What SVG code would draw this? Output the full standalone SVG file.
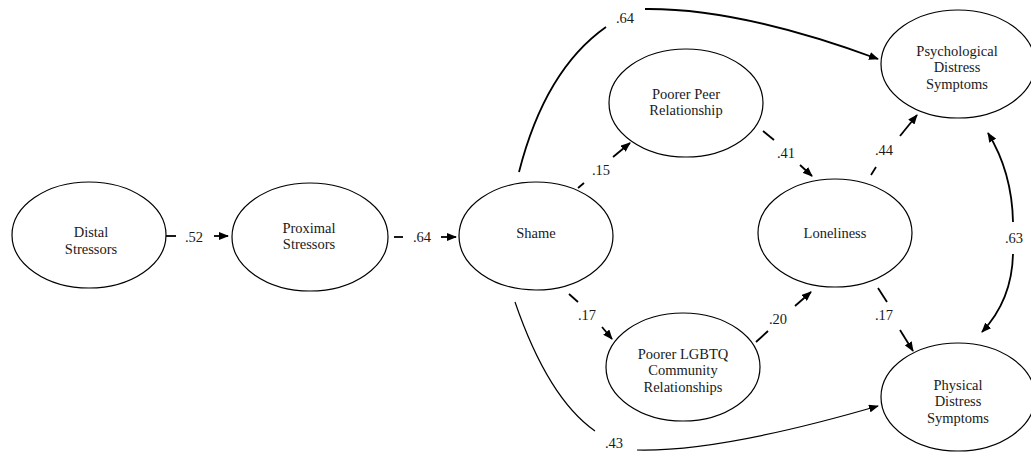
<svg xmlns="http://www.w3.org/2000/svg" width="1031" height="458" viewBox="0 0 1031 458">
<style>
  .node ellipse { fill: #fff; stroke: #000; stroke-width: 1.2; }
  text { font-family: "Liberation Serif", "DejaVu Serif", serif; font-size: 14.5px; fill: #1a1a1a; text-anchor: middle; }
  .seg { stroke: #000; stroke-width: 1.8; fill: none; }
  .thin { stroke: #000; stroke-width: 1.2; fill: none; }
</style>
<defs>
  <marker id="ah" markerUnits="userSpaceOnUse" markerWidth="10" markerHeight="8" refX="9" refY="4" orient="auto-start-reverse">
    <path d="M0,0 L10,4 L0,8 Z" fill="#000"/>
  </marker>
</defs>
<rect width="1031" height="458" fill="#fff"/>
<g id="connectors" font-family="Liberation Serif, DejaVu Serif, serif">
  <line class="seg" x1="166" y1="236" x2="176" y2="236"/>
  <line class="seg" x1="214" y1="236" x2="228" y2="236" marker-end="url(#ah)"/>
  <text x="194" y="242">.52</text>
  <line class="seg" x1="394" y1="237" x2="403" y2="237"/>
  <line class="seg" x1="441" y1="237" x2="456" y2="237" marker-end="url(#ah)"/>
  <text x="422" y="242">.64</text>
  <line class="seg" x1="578" y1="188" x2="584" y2="183"/>
  <line class="seg" x1="613" y1="157" x2="630" y2="143" marker-end="url(#ah)"/>
  <text x="601" y="175">.15</text>
  <line class="seg" x1="763" y1="131" x2="774" y2="140"/>
  <line class="seg" x1="800" y1="165" x2="812" y2="176" marker-end="url(#ah)"/>
  <text x="786" y="158">.41</text>
  <line class="seg" x1="569" y1="294" x2="578" y2="302"/>
  <line class="seg" x1="602" y1="327" x2="612" y2="339" marker-end="url(#ah)"/>
  <text x="587" y="320">.17</text>
  <line class="seg" x1="756" y1="342" x2="768" y2="331"/>
  <line class="seg" x1="795" y1="306" x2="811" y2="292" marker-end="url(#ah)"/>
  <text x="778" y="324">.20</text>
  <line class="seg" x1="871" y1="175" x2="876" y2="167"/>
  <line class="seg" x1="900" y1="136" x2="917" y2="115" marker-end="url(#ah)"/>
  <text x="884" y="155">.44</text>
  <line class="seg" x1="878" y1="288" x2="887" y2="302"/>
  <line class="seg" x1="900" y1="330" x2="913" y2="351" marker-end="url(#ah)"/>
  <text x="884" y="320">.17</text>
  <path class="seg" d="M988,133 Q1012,172 1013,222" marker-start="url(#ah)"/>
  <path class="seg" d="M1013,254 Q1012,300 982,332" marker-end="url(#ah)"/>
  <text x="1014" y="243">.63</text>
  <path class="seg" d="M519,172 Q545,70 606,27"/>
  <path class="seg" d="M645,9 Q740,8 878,59" marker-end="url(#ah)"/>
  <text x="625" y="23">.64</text>
  <path class="thin" d="M515,302 Q548,398 595,431"/>
  <path class="thin" d="M637,450 Q720,452 878,406" marker-end="url(#ah)"/>
  <text x="614" y="448">.43</text>
</g>
<g id="distal" class="node">
  <ellipse cx="89" cy="235" rx="77" ry="53"/>
  <text x="91" y="237">Distal</text>
  <text x="91" y="254">Stressors</text>
</g>
<g id="proximal" class="node">
  <ellipse cx="310" cy="237" rx="78" ry="54"/>
  <text x="309" y="233">Proximal</text>
  <text x="309" y="249">Stressors</text>
</g>
<g id="shame" class="node">
  <ellipse cx="536" cy="236" rx="77" ry="54"/>
  <text x="536" y="238">Shame</text>
</g>
<g id="peer" class="node">
  <ellipse cx="686" cy="103" rx="77" ry="54"/>
  <text x="686" y="99">Poorer Peer</text>
  <text x="686" y="115">Relationship</text>
</g>
<g id="lgbtq" class="node">
  <ellipse cx="683" cy="367" rx="77" ry="54"/>
  <text x="683" y="359">Poorer LGBTQ</text>
  <text x="683" y="375">Community</text>
  <text x="683" y="392">Relationships</text>
</g>
<g id="loneliness" class="node">
  <ellipse cx="835" cy="233" rx="77" ry="54"/>
  <text x="835" y="238">Loneliness</text>
</g>
<g id="psychological" class="node">
  <ellipse cx="958" cy="64" rx="77" ry="54"/>
  <text x="957" y="56">Psychological</text>
  <text x="957" y="72">Distress</text>
  <text x="957" y="89">Symptoms</text>
</g>
<g id="physical" class="node">
  <ellipse cx="958" cy="397" rx="77" ry="54"/>
  <text x="958" y="390">Physical</text>
  <text x="958" y="406">Distress</text>
  <text x="958" y="423">Symptoms</text>
</g>
</svg>
